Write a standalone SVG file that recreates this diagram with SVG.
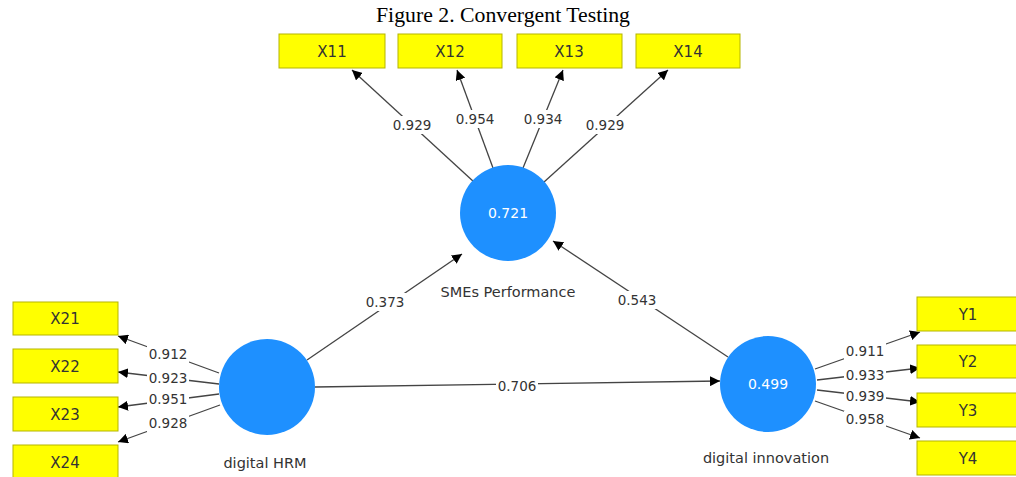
<svg xmlns="http://www.w3.org/2000/svg" width="1016" height="477" viewBox="0 0 1016 477">
<style>
.t{font-family:"Liberation Serif",serif;font-size:21px;fill:#000}
.box{fill:#ffff00;stroke:#b5b500;stroke-width:1}
.bt{font-family:"DejaVu Sans",sans-serif;font-size:15px;fill:#333;text-anchor:middle}
.c{fill:#1e90ff}
.ct{font-family:"DejaVu Sans",sans-serif;font-size:14px;fill:#fff;text-anchor:middle}
.nl{font-family:"DejaVu Sans",sans-serif;font-size:14.5px;fill:#333;text-anchor:middle}
.e{stroke:#444;stroke-width:1.3;fill:none;marker-end:url(#ah)}
.lb{fill:#fff}
.lt{font-family:"DejaVu Sans",sans-serif;font-size:13.5px;fill:#333;text-anchor:middle}
</style>
<defs>
<marker id="ah" viewBox="0 0 10 10" refX="10" refY="5" markerWidth="10" markerHeight="10" markerUnits="userSpaceOnUse" orient="auto">
<path d="M0,0 L10,5 L0,10 Z" fill="#000"/>
</marker>
</defs>
<text class="t" x="503" y="22" text-anchor="middle" textLength="254" lengthAdjust="spacingAndGlyphs">Figure 2. Convergent Testing</text>

<g id="connectors">
<line class="e" x1="474" y1="182" x2="352" y2="70"/>
<line class="e" x1="493" y1="168" x2="457" y2="70"/>
<line class="e" x1="523" y1="168" x2="563" y2="70"/>
<line class="e" x1="544" y1="182" x2="668" y2="70"/>
<line class="e" x1="219" y1="373" x2="118" y2="336"/>
<line class="e" x1="219" y1="384" x2="118" y2="372"/>
<line class="e" x1="219" y1="394" x2="118" y2="407"/>
<line class="e" x1="220" y1="405" x2="118" y2="442"/>
<line class="e" x1="815" y1="369" x2="920" y2="332"/>
<line class="e" x1="817" y1="380" x2="920" y2="368"/>
<line class="e" x1="817" y1="390" x2="920" y2="402"/>
<line class="e" x1="815" y1="401" x2="920" y2="438"/>
<line class="e" x1="307" y1="360" x2="462" y2="254"/>
<line class="e" x1="728" y1="357" x2="553" y2="241"/>
<line class="e" x1="315" y1="387" x2="720" y2="381"/>
<g>
<rect class="lb" x="391" y="116" width="42" height="18"/><text class="lt" x="412" y="130">0.929</text>
<rect class="lb" x="454" y="110" width="42" height="18"/><text class="lt" x="475" y="124">0.954</text>
<rect class="lb" x="522" y="110" width="42" height="18"/><text class="lt" x="543" y="124">0.934</text>
<rect class="lb" x="584" y="116" width="42" height="18"/><text class="lt" x="605" y="130">0.929</text>
<rect class="lb" x="147" y="346" width="42" height="17"/><text class="lt" x="168" y="359">0.912</text>
<rect class="lb" x="147" y="370" width="42" height="17"/><text class="lt" x="168" y="383">0.923</text>
<rect class="lb" x="147" y="391" width="42" height="17"/><text class="lt" x="168" y="404">0.951</text>
<rect class="lb" x="147" y="415" width="42" height="17"/><text class="lt" x="168" y="428">0.928</text>
<rect class="lb" x="844" y="343" width="42" height="17"/><text class="lt" x="865" y="356">0.911</text>
<rect class="lb" x="844" y="367" width="42" height="17"/><text class="lt" x="865" y="380">0.933</text>
<rect class="lb" x="844" y="388" width="42" height="17"/><text class="lt" x="865" y="401">0.939</text>
<rect class="lb" x="844" y="411" width="42" height="17"/><text class="lt" x="865" y="424">0.958</text>
<rect class="lb" x="364" y="293" width="42" height="18"/><text class="lt" x="385" y="307">0.373</text>
<rect class="lb" x="616" y="291" width="42" height="18"/><text class="lt" x="637" y="305">0.543</text>
<rect class="lb" x="496" y="378" width="42" height="17"/><text class="lt" x="517" y="391">0.706</text>
</g>
</g>

<g id="X11"><rect class="box" x="279" y="34" width="106" height="34"/><text class="bt" x="332" y="57">X11</text></g>
<g id="X12"><rect class="box" x="398" y="34" width="104" height="34"/><text class="bt" x="450" y="57">X12</text></g>
<g id="X13"><rect class="box" x="517" y="34" width="105" height="34"/><text class="bt" x="569" y="57">X13</text></g>
<g id="X14"><rect class="box" x="636" y="34" width="104" height="34"/><text class="bt" x="688" y="57">X14</text></g>

<g id="X21"><rect class="box" x="13" y="302" width="105" height="33"/><text class="bt" x="65" y="324">X21</text></g>
<g id="X22"><rect class="box" x="13" y="349" width="105" height="34"/><text class="bt" x="65" y="372">X22</text></g>
<g id="X23"><rect class="box" x="13" y="397" width="105" height="34"/><text class="bt" x="65" y="420">X23</text></g>
<g id="X24"><rect class="box" x="13" y="445" width="105" height="34"/><text class="bt" x="65" y="468">X24</text></g>

<g id="Y1"><rect class="box" x="917" y="297" width="104" height="34"/><text class="bt" x="968" y="320">Y1</text></g>
<g id="Y2"><rect class="box" x="917" y="345" width="104" height="33"/><text class="bt" x="968" y="367">Y2</text></g>
<g id="Y3"><rect class="box" x="917" y="393" width="104" height="34"/><text class="bt" x="968" y="416">Y3</text></g>
<g id="Y4"><rect class="box" x="917" y="441" width="104" height="34"/><text class="bt" x="968" y="464">Y4</text></g>

<g id="SMEs"><circle class="c" cx="508" cy="213" r="48"/><text class="ct" x="508" y="218">0.721</text><text class="nl" x="508" y="297">SMEs Performance</text></g>
<g id="HRM"><circle class="c" cx="267" cy="387" r="48"/><text class="nl" x="265" y="468">digital HRM</text></g>
<g id="INNOV"><circle class="c" cx="768" cy="384" r="48"/><text class="ct" x="768" y="389">0.499</text><text class="nl" x="766" y="463">digital innovation</text></g>
</svg>
